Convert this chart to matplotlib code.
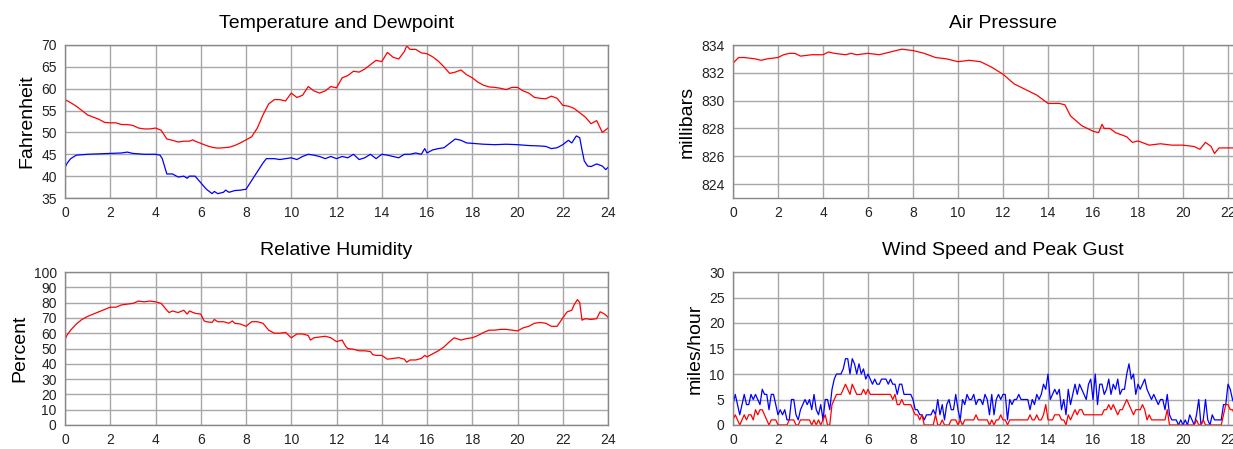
import numpy as np
import matplotlib
matplotlib.use("Agg")
import matplotlib.pyplot as plt

plt.rcParams['font.family'] = ['Liberation Sans', 'DejaVu Sans']

# ---- Temperature and dewpoint (deg F) ----
temp_hours = [0.0, 0.25, 0.5, 0.75, 1.0, 1.25, 1.5, 1.75, 2.0, 2.25, 2.5, 2.75, 3.0, 3.25, 3.5, 3.75,
              4.0, 4.25, 4.5, 4.75, 5.0, 5.25, 5.5, 5.65, 5.75, 6.0, 6.25, 6.5, 6.75, 7.0, 7.25, 7.5,
              7.75, 8.0, 8.25, 8.5, 8.75, 9.0, 9.25, 9.5, 9.75, 10.0, 10.25, 10.5, 10.75, 11.0, 11.25,
              11.5, 11.75, 12.0, 12.25, 12.5, 12.75, 13.0, 13.25, 13.5, 13.75, 14.0, 14.25, 14.5, 14.75,
              15.0, 15.1, 15.25, 15.5, 15.75, 16.0, 16.25, 16.5, 16.75, 17.0, 17.25, 17.5, 17.75, 18.0,
              18.25, 18.5, 18.75, 19.0, 19.25, 19.5, 19.75, 20.0, 20.25, 20.5, 20.75, 21.0, 21.25, 21.5,
              21.75, 22.0, 22.25, 22.5, 22.75, 23.0, 23.25, 23.5, 23.75, 24.0]
temp = [57.5, 56.8, 56.0, 55.0, 54.0, 53.5, 53.0, 52.3, 52.2, 52.2, 51.8, 51.8, 51.6, 51.0, 50.8, 50.8,
        51.0, 50.5, 48.5, 48.2, 47.8, 48.0, 48.0, 48.3, 48.0, 47.5, 47.0, 46.6, 46.4, 46.5, 46.6, 47.0,
        47.6, 48.3, 49.0, 51.0, 54.0, 56.5, 57.5, 57.5, 57.2, 59.0, 58.0, 58.5, 60.5, 59.5, 59.0,
        59.5, 60.5, 60.2, 62.5, 63.0, 64.0, 63.8, 64.5, 65.5, 66.5, 66.2, 68.3, 67.2, 66.8,
        68.5, 69.8, 69.0, 69.0, 68.2, 68.0, 67.3, 66.3, 65.0, 63.5, 63.8, 64.3, 63.2, 62.5,
        61.5, 60.8, 60.4, 60.3, 60.1, 59.8, 60.3, 60.3, 59.5, 59.0, 58.0, 57.8, 57.7, 58.3,
        57.8, 56.2, 56.0, 55.5, 54.5, 53.5, 52.0, 52.7, 50.0, 51.0]

dew_hours = [0.0, 0.1, 0.25, 0.5, 1.0, 1.5, 2.0, 2.5, 2.75, 3.0, 3.5, 4.0, 4.2, 4.3, 4.5, 4.75, 5.0,
             5.25, 5.4, 5.5, 5.75, 6.0, 6.25, 6.5, 6.6, 6.75, 7.0, 7.1, 7.25, 7.5, 7.75, 8.0, 8.25,
             8.5, 8.75, 8.9, 9.25, 9.5, 9.75, 10.0, 10.25, 10.5, 10.75, 11.0, 11.25, 11.5, 11.75,
             12.0, 12.25, 12.5, 12.75, 13.0, 13.25, 13.5, 13.75, 14.0, 14.25, 14.5, 14.75, 15.0,
             15.25, 15.5, 15.75, 15.9, 16.0, 16.25, 16.5, 16.75, 17.0, 17.25, 17.5, 17.75, 18.0,
             18.5, 19.0, 19.5, 20.0, 20.5, 21.0, 21.25, 21.5, 21.75, 22.0, 22.25, 22.4, 22.6,
             22.75, 22.85, 22.95, 23.1, 23.25, 23.5, 23.75, 23.9, 24.0]
dew = [42.0, 43.0, 44.0, 44.8, 45.0, 45.1, 45.2, 45.3, 45.5, 45.2, 45.0, 45.0, 44.8, 44.0, 40.5, 40.5,
       39.8, 40.0, 39.5, 40.0, 40.0, 38.5, 37.0, 36.0, 36.5, 36.0, 36.3, 36.8, 36.3, 36.7, 36.8,
       37.0, 39.0, 41.0, 43.0, 44.0, 44.0, 43.8, 44.0, 44.2, 43.8, 44.5, 45.0, 44.8, 44.5, 44.0,
       44.5, 44.0, 44.5, 44.2, 45.0, 43.8, 44.2, 45.0, 44.0, 45.0, 44.8, 44.5, 44.2, 45.0,
       45.0, 45.3, 45.0, 46.3, 45.3, 46.0, 46.3, 46.5, 47.5, 48.5, 48.2, 47.6, 47.5,
       47.3, 47.2, 47.3, 47.2, 47.0, 46.9, 46.8, 46.3, 46.5, 47.2, 48.2, 47.6, 49.2,
       48.8, 46.0, 43.5, 42.3, 42.2, 42.8, 42.3, 41.5, 42.0]

# ---- Relative humidity (%) ----
rh_hours = [0.0, 0.1, 0.25, 0.5, 0.75, 1.0, 1.25, 1.5, 1.75, 2.0, 2.25, 2.5, 2.75, 3.0, 3.25, 3.5,
            3.75, 4.0, 4.25, 4.5, 4.6, 4.75, 5.0, 5.25, 5.4, 5.5, 5.75, 6.0, 6.15, 6.25, 6.5, 6.6,
            6.75, 7.0, 7.25, 7.4, 7.5, 7.75, 8.0, 8.25, 8.5, 8.75, 9.0, 9.25, 9.5, 9.75, 10.0,
            10.25, 10.5, 10.75, 10.85, 11.0, 11.5, 11.75, 12.0, 12.25, 12.4, 12.5, 12.75, 13.0,
            13.25, 13.5, 13.6, 13.75, 14.0, 14.25, 14.5, 14.75, 15.0, 15.1, 15.25, 15.5, 15.75,
            15.9, 16.0, 16.25, 16.5, 16.75, 17.0, 17.2, 17.5, 17.75, 18.0, 18.25, 18.5, 18.75,
            19.0, 19.25, 19.5, 19.75, 20.0, 20.25, 20.5, 20.75, 21.0, 21.25, 21.5, 21.75, 22.0,
            22.2, 22.4, 22.5, 22.65, 22.75, 22.85, 23.0, 23.25, 23.5, 23.65, 23.85, 24.0]
rh = [56, 59, 62, 66, 69, 71, 72.5, 74, 75.5, 77, 77, 78.5, 79, 79.5, 81, 80.5,
      81, 80.5, 79.5, 75, 73.5, 74.5, 73.5, 75, 72.5, 74.5, 73, 72.5, 68, 67.5, 67, 69,
      67.5, 67.5, 66.5, 68, 66.5, 66, 64.5, 67.5, 67.5, 66.5, 62, 60, 60, 60.5, 57,
      59.5, 59.5, 58.5, 55.5, 57, 58, 57, 54.5, 55.5, 51.5, 50, 49.5, 48.5,
      48.5, 48, 46, 45.5, 45.5, 43, 43.5, 44, 43, 41, 42.5, 42.5, 43.5,
      45.5, 44.5, 46.5, 48.5, 51, 54.5, 57, 55.5, 56.5, 57, 58.5, 60.5, 62,
      62, 62.5, 62.5, 62, 61.5, 63.5, 64.5, 66.5, 67, 66.5, 64.5, 64.5, 70,
      74, 75, 78.5, 82, 80, 68.5, 69.5, 69, 69.5, 74, 72.5, 70.5]

# ---- Air pressure (mb) ----
pres_hours = [0.0, 0.25, 0.5, 1.0, 1.25, 1.5, 2.0, 2.25, 2.5, 2.75, 3.0, 3.5, 4.0, 4.25, 4.5, 5.0,
              5.25, 5.5, 6.0, 6.5, 7.0, 7.5, 8.0, 8.5, 9.0, 9.5, 10.0, 10.5, 11.0, 11.5, 12.0,
              12.5, 13.0, 13.5, 14.0, 14.5, 14.75, 15.0, 15.5, 16.0, 16.25, 16.4, 16.5, 16.75,
              17.0, 17.5, 17.75, 18.0, 18.5, 19.0, 19.5, 20.0, 20.5, 20.75, 21.0, 21.25, 21.4,
              21.6, 22.0, 22.5, 23.0, 24.0]
pres = [832.7, 833.1, 833.1, 833.0, 832.9, 833.0, 833.1, 833.3, 833.4, 833.4, 833.2, 833.3, 833.3,
        833.5, 833.4, 833.3, 833.4, 833.3, 833.4, 833.3, 833.5, 833.7, 833.6, 833.4, 833.1, 833.0,
        832.8, 832.9, 832.8, 832.4, 831.9, 831.2, 830.8, 830.4, 829.8, 829.8, 829.7, 828.9,
        828.2, 827.8, 827.7, 828.3, 828.0, 828.0, 827.7, 827.4, 827.0, 827.1, 826.8, 826.9,
        826.8, 826.8, 826.7, 826.5, 827.0, 826.7, 826.2, 826.6, 826.6, 826.6, 826.6, 826.6]

# ---- Wind (mph), one reading every 0.1 h ----
wind_step = 0.1
gust = [4, 6, 4, 2, 4, 6, 4, 4, 6, 5, 6, 5, 4, 7, 6, 6, 3, 6, 6, 4,
        2, 3, 2, 3, 1, 1, 5, 5, 2, 1, 3, 4, 5, 4, 5, 3, 6, 3, 2, 4,
        1, 5, 5, 3, 7, 9, 10, 10, 10, 11, 13, 13, 10, 13, 12, 10, 12, 10, 11, 9,
        10, 9, 8, 9, 8, 8, 9, 9, 9, 8, 9, 8, 8, 6, 8, 8, 6, 6, 6, 6,
        5, 3, 3, 2, 2, 1, 2, 2, 2, 3, 2, 5, 2, 4, 1, 4, 5, 3, 3, 6,
        3, 1, 5, 4, 6, 5, 5, 6, 4, 5, 5, 4, 6, 5, 2, 6, 2, 5, 6, 5,
        6, 6, 1, 5, 4, 5, 5, 6, 5, 5, 5, 5, 3, 5, 4, 6, 5, 6, 8, 7,
        10, 5, 6, 7, 6, 7, 3, 5, 2, 7, 4, 6, 8, 6, 8, 7, 6, 5, 8, 9,
        5, 10, 4, 8, 8, 6, 7, 9, 6, 8, 7, 9, 6, 7, 7, 10, 12, 9, 10, 6,
        8, 7, 8, 9, 7, 6, 5, 6, 5, 4, 5, 5, 3, 6, 2, 1, 1, 1, 0, 1,
        0, 1, 0, 2, 1, 0, 2, 5, 0, 1, 5, 1, 0, 2, 1, 1, 1, 1, 4, 4,
        8, 7, 5, 4, 5]
speed = [1, 2, 1, 0, 1, 2, 1, 2, 2, 1, 3, 2, 3, 3, 2, 1, 0, 1, 1, 1,
         0, 0, 0, 0, 0, 1, 1, 1, 0, 0, 1, 1, 1, 1, 1, 0, 1, 0, 1, 0,
         1, 2, 0, 0, 4, 5, 6, 6, 6, 7, 8, 7, 6, 8, 7, 6, 6, 6, 7, 6,
         7, 6, 6, 6, 6, 6, 6, 6, 6, 6, 6, 5, 6, 4, 4, 5, 4, 4, 4, 4,
         3, 2, 2, 1, 2, 0, 0, 0, 0, 0, 2, 0, 0, 1, 0, 0, 0, 1, 1, 1,
         0, 1, 0, 1, 1, 1, 1, 1, 2, 1, 1, 1, 1, 1, 0, 1, 0, 1, 1, 2,
         1, 1, 0, 1, 1, 1, 1, 1, 1, 1, 1, 1, 2, 1, 1, 2, 1, 1, 2, 4,
         1, 1, 1, 2, 2, 2, 1, 1, 0, 2, 1, 2, 3, 2, 3, 3, 2, 2, 2, 2,
         2, 2, 2, 2, 2, 3, 3, 4, 3, 4, 3, 2, 3, 3, 4, 5, 4, 3, 2, 3,
         3, 3, 4, 3, 1, 2, 1, 1, 1, 1, 1, 1, 1, 3, 0, 0, 0, 0, 0, 0,
         0, 0, 0, 0, 0, 0, 1, 0, 0, 1, 0, 0, 0, 0, 0, 0, 0, 0, 2, 4,
         4, 3, 3, 2, 2]
wind_hours = np.arange(len(gust)) * wind_step

hour_ticks = list(range(0, 25, 2))

W, H = 1233, 449
fig = plt.figure(figsize=(W / 100, H / 100), dpi=100)


def make_ax(left_px, top_px, width_px, height_px):
    ax = fig.add_axes([left_px / W, (H - top_px - height_px) / H, width_px / W, height_px / H])
    ax.set_xlim(0, 24)
    ax.set_xticks(hour_ticks)
    ax.grid(True, color='#a8a8a8', lw=1.0)
    ax.set_axisbelow(True)
    ax.tick_params(length=0, labelsize=10, pad=6, colors='#222222')
    for s in ax.spines.values():
        s.set_color('#888888')
        s.set_linewidth(1.0)
    return ax


ax1 = make_ax(65, 45, 543, 153)
ax1.plot(temp_hours, temp, color='red', lw=0.9)
ax1.plot(dew_hours, dew, color='blue', lw=0.9)
ax1.set_ylim(35, 70)
ax1.set_yticks(range(35, 71, 5))
ax1.set_title('Temperature and Dewpoint', fontsize=14, pad=12)
ax1.set_ylabel('Fahrenheit', fontsize=14)

# right-hand panels run past the figure edge, as in the original screenshot
ax2 = make_ax(733, 45, 540, 153)
ax2.plot(pres_hours, pres, color='red', lw=0.9)
ax2.set_ylim(823, 834)
ax2.set_yticks(range(824, 835, 2))
ax2.set_title('Air Pressure', fontsize=14, pad=12)
ax2.set_ylabel('millibars', fontsize=14)

ax3 = make_ax(65, 272, 543, 153)
ax3.plot(rh_hours, rh, color='red', lw=0.9)
ax3.set_ylim(0, 100)
ax3.set_yticks(range(0, 101, 10))
ax3.set_title('Relative Humidity', fontsize=14, pad=12)
ax3.set_ylabel('Percent', fontsize=14)

ax4 = make_ax(733, 272, 540, 153)
ax4.plot(wind_hours, gust, color='blue', lw=0.9)
ax4.plot(wind_hours, speed, color='red', lw=0.9)
ax4.set_ylim(0, 30)
ax4.set_yticks(range(0, 31, 5))
ax4.set_title('Wind Speed and Peak Gust', fontsize=14, pad=12)
ax4.set_ylabel('miles/hour', fontsize=14)

fig.savefig('out.png', dpi=100)
